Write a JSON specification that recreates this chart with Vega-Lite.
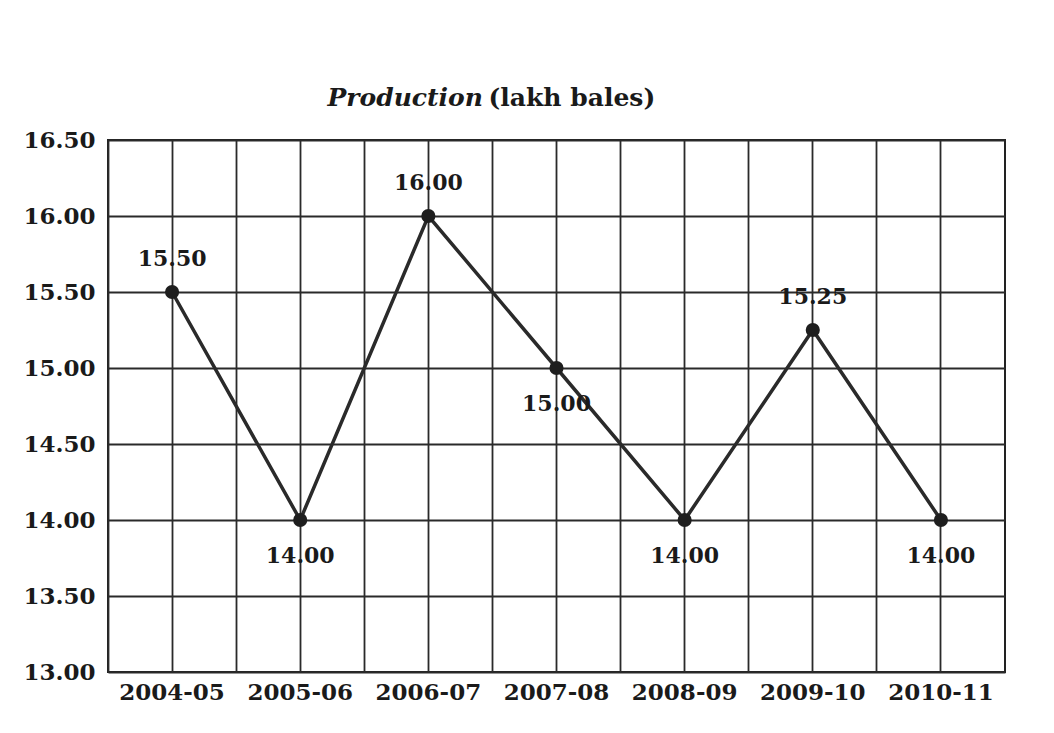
{
  "$schema": "https://vega.github.io/schema/vega-lite/v6.json",
  "width": 897,
  "height": 532,
  "autosize": {"type": "none"},
  "padding": {"left": 108, "top": 140, "right": 49, "bottom": 61},
  "background": "white",
  "config": {
    "view": {"stroke": "#222222", "strokeWidth": 2},
    "font": "DejaVu Serif",
    "axis": {
      "gridColor": "#2a2a2a",
      "gridWidth": 1.8,
      "gridOpacity": 1,
      "domain": false,
      "ticks": false,
      "labelFont": "DejaVu Serif",
      "labelFontSize": 23,
      "labelFontWeight": "bold",
      "labelColor": "#1a1a1a",
      "titleFont": "DejaVu Serif",
      "titleFontSize": 25,
      "titleFontWeight": "bold",
      "titleColor": "#1a1a1a"
    }
  },
  "data": {
    "values": [
      {"year": "2004-05", "value": 15.5},
      {"year": "2005-06", "value": 14.0},
      {"year": "2006-07", "value": 16.0},
      {"year": "2007-08", "value": 15.0},
      {"year": "2008-09", "value": 14.0},
      {"year": "2009-10", "value": 15.25},
      {"year": "2010-11", "value": 14.0}
    ]
  },
  "resolve": {"axis": {"x": "independent"}},
  "layer": [
    {
      "mark": {"type": "line", "color": "#2a2a2a", "strokeWidth": 3.5},
      "encoding": {
        "x": {
          "field": "year", "type": "ordinal", "sort": null,
          "scale": {"type": "band", "paddingInner": 0, "paddingOuter": 0},
          "axis": {
            "grid": true, "labelAngle": 0, "labelPadding": 9,
            "title": "Production", "titleFontStyle": "italic",
            "titleX": 219, "titleY": -567, "titleAlign": "left",
            "titleBaseline": "alphabetic", "titleAngle": 0
          }
        },
        "y": {
          "field": "value", "type": "quantitative",
          "scale": {"domain": [13, 16.5], "nice": false, "zero": false},
          "axis": {
            "values": [13, 13.5, 14, 14.5, 15, 15.5, 16, 16.5],
            "format": ".2f", "grid": true, "labelPadding": 13,
            "title": "(lakh bales)", "titleAngle": 0,
            "titleX": 380, "titleY": -35, "titleAlign": "left",
            "titleBaseline": "alphabetic"
          }
        }
      }
    },
    {
      "mark": {"type": "point", "filled": true, "color": "#1e1e1e", "size": 200, "opacity": 1},
      "encoding": {
        "x": {"field": "year", "type": "ordinal", "sort": null, "axis": null},
        "y": {"field": "value", "type": "quantitative"}
      }
    },
    {
      "transform": [{"filter": "datum.value > 15"}],
      "mark": {"type": "text", "dy": -33, "fontSize": 22, "fontWeight": "bold", "font": "DejaVu Serif", "color": "#1a1a1a"},
      "encoding": {
        "x": {"field": "year", "type": "ordinal", "sort": null, "axis": null},
        "y": {"field": "value", "type": "quantitative"},
        "text": {"field": "value", "type": "quantitative", "format": ".2f"}
      }
    },
    {
      "transform": [{"filter": "datum.value <= 15"}],
      "mark": {"type": "text", "dy": 36, "fontSize": 22, "fontWeight": "bold", "font": "DejaVu Serif", "color": "#1a1a1a"},
      "encoding": {
        "x": {"field": "year", "type": "ordinal", "sort": null, "axis": null},
        "y": {"field": "value", "type": "quantitative"},
        "text": {"field": "value", "type": "quantitative", "format": ".2f"}
      }
    },
    {
      "mark": {"type": "point", "opacity": 0},
      "encoding": {
        "x": {
          "field": "year", "type": "ordinal", "sort": null,
          "axis": {"grid": true, "bandPosition": 0, "labels": false, "ticks": false, "domain": false, "title": null, "orient": "top"}
        },
        "y": {"field": "value", "type": "quantitative"}
      }
    }
  ]
}
